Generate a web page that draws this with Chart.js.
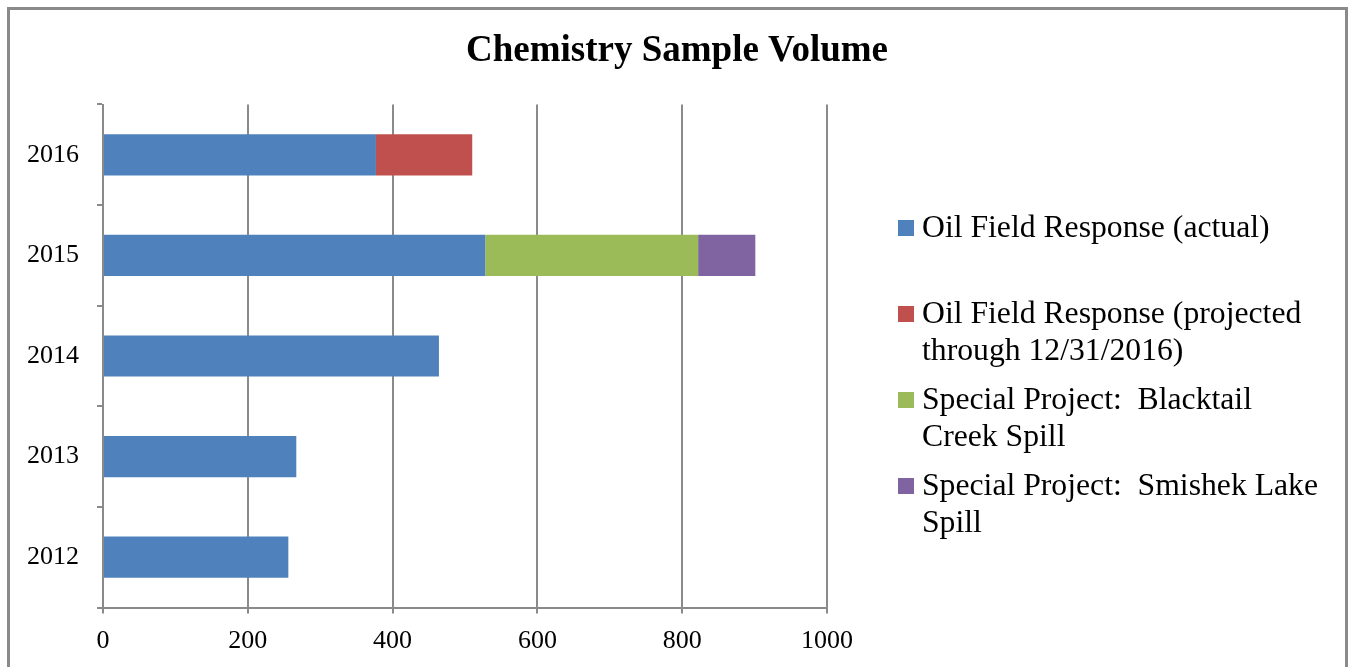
<!DOCTYPE html>
<html>
<head>
<meta charset="utf-8">
<script src="https://cdn.jsdelivr.net/npm/chart.js@4/dist/chart.umd.min.js"></script>
<style>
  html, body { margin: 0; padding: 0; background: #fff; overflow: hidden; }
  #wrap { position: relative; width: 1348px; height: 667px; }
  #frame { position: absolute; left: 7px; top: 7px; width: 1341px; height: 700px; border: 3px solid #8a8a8a; box-sizing: border-box; }
  canvas { position: absolute; left: 0; top: 0; }
</style>
</head>
<body>
<div id="wrap">
  <div id="frame"></div>
  <canvas id="myChart" width="1348" height="667"></canvas>
</div>
<script>
// données
const years = ['2012', '2013', '2014', '2015', '2016'];
const oilActual = [256, 267, 464, 528, 377];
const oilProjected = [0, 0, 0, 0, 133];
const blacktail = [0, 0, 0, 294, 0];
const smishek = [0, 0, 0, 79, 0];
const xTicks = [0, 200, 400, 600, 800, 1000];

const chartTitle = 'Chemistry Sample Volume';
const serif = '"Liberation Serif", "Times New Roman", serif';

// légende dessinée à la main (libellés sur plusieurs lignes comme dans Excel)
const legendLines = [
    ['Oil Field Response (actual)'],
    ['Oil Field Response (projected', 'through 12/31/2016)'],
    ['Special Project:  Blacktail', 'Creek Spill'],
    ['Special Project:  Smishek Lake', 'Spill']
];

const sideLegend = {
    id: 'sideLegend',
    afterDraw(chart) {
        const ctx = chart.ctx;
        const left = chart.chartArea.right + 71;
        const top = 228;
        const slot = 86;
        const lineH = 36.5;
        ctx.save();

        // titre centré sur toute la largeur
        ctx.font = 'bold 37px ' + serif;
        ctx.textAlign = 'center';
        ctx.textBaseline = 'middle';
        ctx.fillStyle = '#000';
        ctx.fillText(chartTitle, chart.width / 2 + 3, 51);

        ctx.textAlign = 'left';
        ctx.font = '31.7px ' + serif;
        chart.data.datasets.forEach((ds, i) => {
            const y = top + i * slot;
            ctx.fillStyle = ds.backgroundColor;
            ctx.fillRect(left, y - 8, 16, 16);
            ctx.fillStyle = '#000';
            legendLines[i].forEach((txt, j) => {
                ctx.fillText(txt, left + 24, y + j * lineH + 1);
            });
        });
        ctx.restore();
    }
};

function makeDataset(label, data, color) {
    return {
        label: label,
        data: data,
        backgroundColor: color,
        borderWidth: 0,
        categoryPercentage: 1,
        barPercentage: 0.41
    };
}

new Chart(document.getElementById('myChart').getContext('2d'), {
    type: 'bar',
    data: {
        labels: years,
        datasets: [
            makeDataset('Oil Field Response (actual)', oilActual, '#4F81BD'),
            makeDataset('Oil Field Response (projected through 12/31/2016)', oilProjected, '#C0504D'),
            makeDataset('Special Project:  Blacktail Creek Spill', blacktail, '#9BBB59'),
            makeDataset('Special Project:  Smishek Lake Spill', smishek, '#8064A2')
        ]
    },
    options: {
        indexAxis: 'y',
        responsive: false,
        animation: false,
        layout: { padding: { left: 8, right: 521, top: 104.5, bottom: 0 } },
        plugins: {
            legend: { display: false },
            tooltip: { enabled: false },
            title: { display: false }
        },
        scales: {
            x: {
                stacked: true,
                min: 0,
                max: 1000,
                afterBuildTicks: s => { s.ticks = xTicks.map(v => ({ value: v })); },
                afterFit: s => { s.height = 59.5; },
                ticks: {
                    color: '#000',
                    font: { family: serif, size: 26 },
                    padding: 12,
                    maxRotation: 0,
                    callback: v => String(v)
                },
                grid: { color: '#8a8a8a', lineWidth: 2, tickLength: 6 },
                border: { color: '#8a8a8a', width: 2 }
            },
            y: {
                stacked: true,
                reverse: true,
                afterFit: s => { s.width = 95; },
                ticks: { color: '#000', font: { family: serif, size: 26 }, padding: 18 },
                grid: { drawOnChartArea: false, offset: true, color: '#8a8a8a', lineWidth: 2, tickLength: 6 },
                border: { color: '#8a8a8a', width: 2 }
            }
        }
    },
    plugins: [sideLegend]
});
</script>
</body>
</html>
